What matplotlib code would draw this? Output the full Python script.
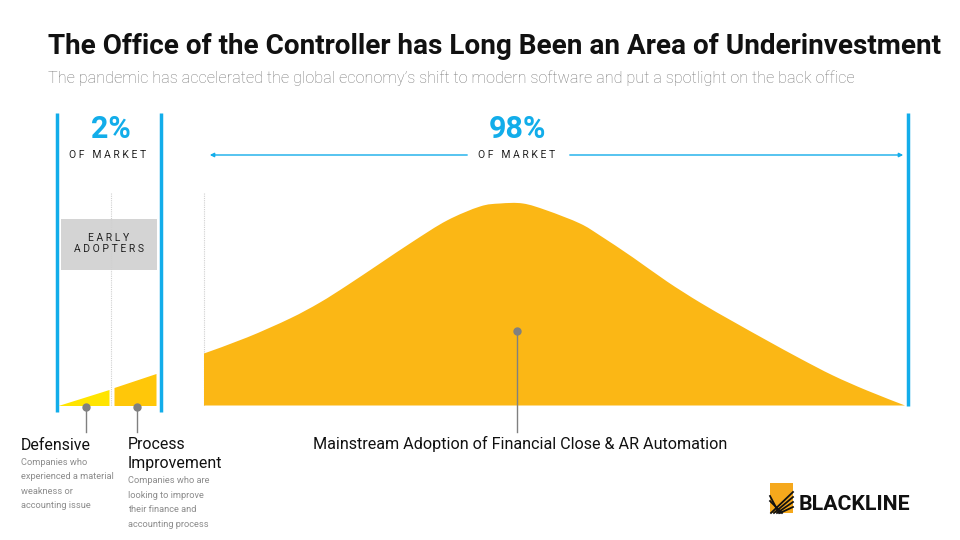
import numpy as np
import matplotlib.pyplot as plt
from matplotlib.patches import Rectangle, PathPatch
from matplotlib.path import Path

plt.rcParams['font.family'] = ['Roboto', 'DejaVu Sans']

# --- data (pixel space, y grows downward) ---
shares = ["2%", "98%"]
segment_names = ["Defensive", "Process\nImprovement",
                 "Mainstream Adoption of Financial Close & AR Automation"]
segment_notes = ["Companies who\nexperienced a material\nweakness or\naccounting issue",
                 "Companies who are\nlooking to improve\ntheir finance and\naccounting process"]

baseline = 405.5
defensive_x = [58, 109]
defensive_h = [0, 16]
process_x = [114, 156]
process_h = [18, 32]
curve_x = [204, 247, 290, 320, 347, 380, 413, 447, 480, 500, 523, 547,
           580, 600, 633, 667, 700, 733, 767, 800, 833, 867, 905]
curve_h = [52, 68, 87, 103, 120, 142, 164, 185, 199, 202, 202, 195,
           182, 170, 148, 124, 103, 84, 65, 47, 30, 15, 0]

BLUE = "#12adea"
GOLD = "#fbb715"
GREY_TXT = "#8c8c8c"


def smooth_area(xs, hs, base):
    # closed outline through the read points, drawn with cubic segments
    pts = np.column_stack([xs, [base - h for h in hs]])
    verts = [(xs[0], base), tuple(pts[0])]
    codes = [Path.MOVETO, Path.LINETO]
    n = len(pts)
    for i in range(n - 1):
        p0 = pts[max(i - 1, 0)]
        p1 = pts[i]
        p2 = pts[i + 1]
        p3 = pts[min(i + 2, n - 1)]
        c1 = p1 + (p2 - p0) / 6
        c2 = p2 - (p3 - p1) / 6
        verts += [tuple(c1), tuple(c2), tuple(p2)]
        codes += [Path.CURVE4] * 3
    verts += [(xs[-1], base), (xs[0], base)]
    codes += [Path.LINETO, Path.CLOSEPOLY]
    return Path(verts, codes)


fig = plt.figure(figsize=(9.6, 5.4), dpi=100)
ax = fig.add_axes([0, 0, 1, 1])
ax.set_xlim(0, 960)
ax.set_ylim(540, 0)
ax.axis("off")

# titles
ax.text(48, 46, "The Office of the Controller has Long Been an Area of Underinvestment",
        fontsize=20.1, fontweight="bold", color="#111111", va="center", ha="left")
ax.text(48, 78, "The pandemic has accelerated the global economy\u2019s shift to modern software "
        "and put a spotlight on the back office",
        fontsize=11.7, fontweight="light", color="#777777", va="center", ha="left")

# blue boundary lines
for x in (57, 161):
    ax.plot([x, x], [113, 412], color=BLUE, lw=2.5, solid_capstyle="butt")
ax.plot([908, 908], [113, 406], color=BLUE, lw=2.5, solid_capstyle="butt")

# dotted separators
for x in (111, 204):
    ax.plot([x, x], [193, baseline], color="#d0d0d0", lw=0.8, ls=(0, (1, 1)))

# share labels
ax.text(111, 129, shares[0], fontsize=22, fontweight="bold", color=BLUE, ha="center", va="center")
ax.text(517, 129, shares[1], fontsize=22, fontweight="bold", color=BLUE, ha="center", va="center")
ax.text(108, 155, "O F   M A R K E T", fontsize=7.5, color="#222222", ha="center", va="center")
ax.text(517, 155, "O F   M A R K E T", fontsize=7.5, color="#222222", ha="center", va="center")
ax.annotate("", xy=(207, 155), xytext=(470, 155),
            arrowprops=dict(arrowstyle="-|>", color=BLUE, lw=1, mutation_scale=6))
ax.annotate("", xy=(906, 155), xytext=(567, 155),
            arrowprops=dict(arrowstyle="-|>", color=BLUE, lw=1, mutation_scale=6))

# early adopters box
ax.add_patch(Rectangle((61, 219), 96, 51, color="#d4d4d4", lw=0, zorder=1))
ax.text(109, 238, "E A R L Y", fontsize=7.5, color="#222222", ha="center", va="center", zorder=2)
ax.text(109, 249.5, "A D O P T E R S", fontsize=7.5, color="#222222", ha="center", va="center", zorder=2)

# areas
ax.fill_between(defensive_x, [baseline - h for h in defensive_h], baseline,
                color="#ffe400", lw=0, zorder=3)
ax.fill_between(process_x, [baseline - h for h in process_h], baseline,
                color="#ffc709", lw=0, zorder=3)
ax.add_patch(PathPatch(smooth_area(curve_x, curve_h, baseline), facecolor=GOLD, lw=0, zorder=3))

# pointers
pointers = [(86, 407), (137, 407), (517, 331)]
for px, py in pointers:
    ax.plot([px, px], [py, 432], color="#808080", lw=1, zorder=4)
    ax.plot(px, py, "o", color="#808080", ms=5, zorder=5)

# segment labels
ax.text(21, 446, segment_names[0], fontsize=11.4, color="#111111", ha="left", va="center")
ax.text(128, 454, segment_names[1], fontsize=11.4, color="#111111", ha="left", va="center",
        linespacing=1.3)
ax.text(520, 444, segment_names[2], fontsize=11.6, color="#111111", ha="center", va="center")
ax.text(21, 458, segment_notes[0], fontsize=6.7, color=GREY_TXT, ha="left", va="top",
        linespacing=1.75)
ax.text(128, 476, segment_notes[1], fontsize=6.7, color=GREY_TXT, ha="left", va="top",
        linespacing=1.8)

# logo
ax.add_patch(Rectangle((770, 483), 23, 30, color="#f5a81c", lw=0))
for k in range(4):
    ax.plot([771 + 3 * k, 793], [513, 492 + 5 * k], color="#111111", lw=1.3)
for k in range(2):
    ax.plot([770, 779 + 3 * k], [496 + 5 * k, 513], color="#111111", lw=1.3)
ax.text(799, 505, "BLACKLINE", fontsize=15.3, fontweight="bold", color="#111111",
        ha="left", va="center")

fig.savefig("out.png", dpi=100)
